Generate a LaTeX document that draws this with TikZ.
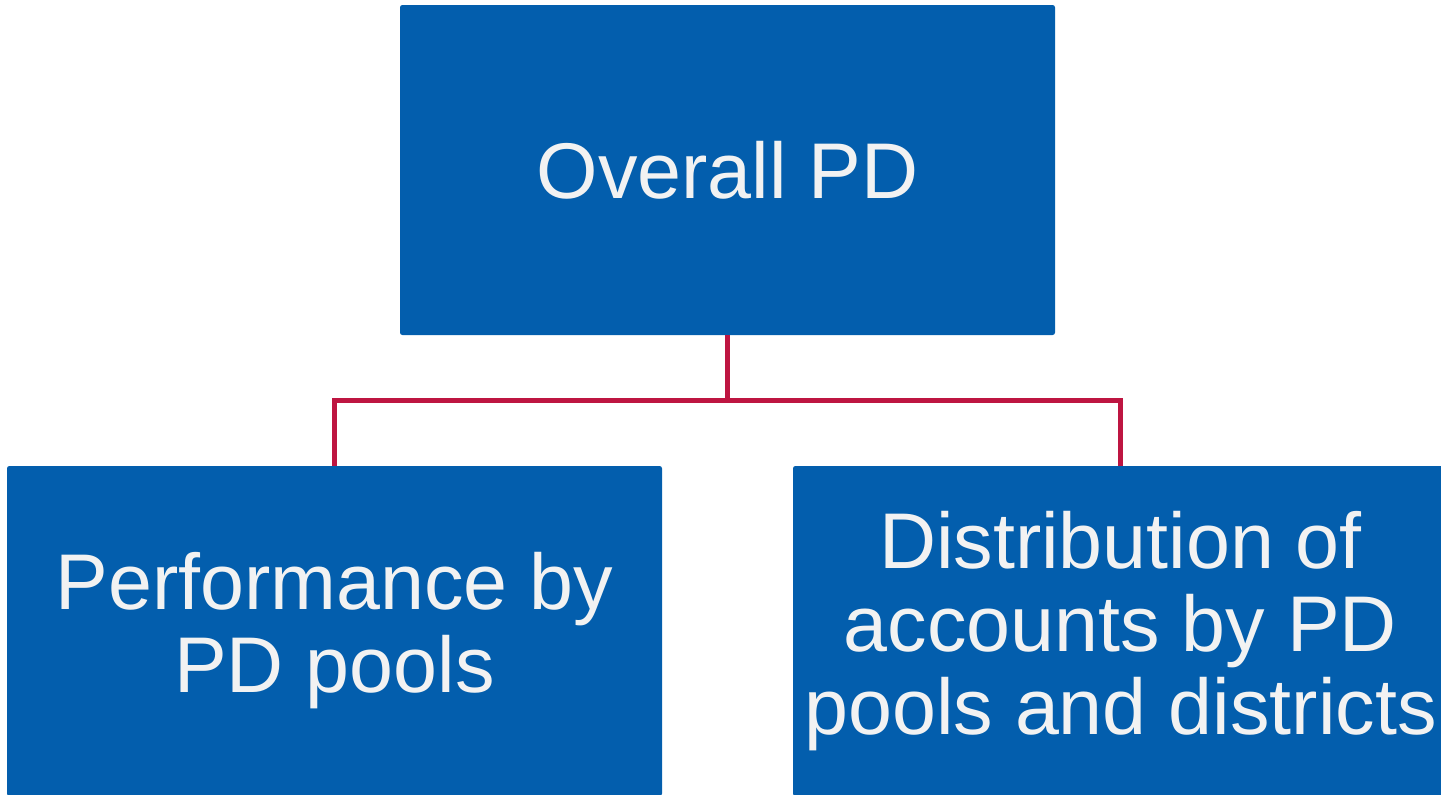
\documentclass[tikz,border=0pt]{standalone}
\usepackage{fontspec}
\setmainfont{Liberation Sans}
\definecolor{boxblue}{RGB}{3,94,173}
\definecolor{linkred}{RGB}{190,21,65}
\definecolor{boxtext}{RGB}{242,242,242}
\tikzset{
    pdbox/.style={rectangle, rounded corners=1.2pt, fill=boxblue, text=boxtext,
        minimum width=327.5pt, minimum height=165pt, inner sep=0pt, align=center,
        font=\fontsize{39.5}{41.5}\selectfont},
    link/.style={draw=linkred, line width=2.4pt}
}
\begin{document}
\begin{tikzpicture}[x=0.5pt, y=-0.5pt]
    \useasboundingbox (0, 0) rectangle (1441, 794);
    \clip (0, 0) rectangle (1441, 794);

    \node[pdbox] (overall) at (727.5, 170) {Overall PD};
    \node[pdbox] (perf) at (334.5, 631) {Performance by\\PD pools};
    \node[pdbox] (dist) at (1120.5, 631) {Distribution of\\accounts by PD\\pools and districts};

    \coordinate (fork) at (727.5, 400.5);
    \draw[link] (overall.south) -- (fork);
    \draw[link] (perf.north) |- (fork) -| (dist.north);
\end{tikzpicture}
\end{document}
